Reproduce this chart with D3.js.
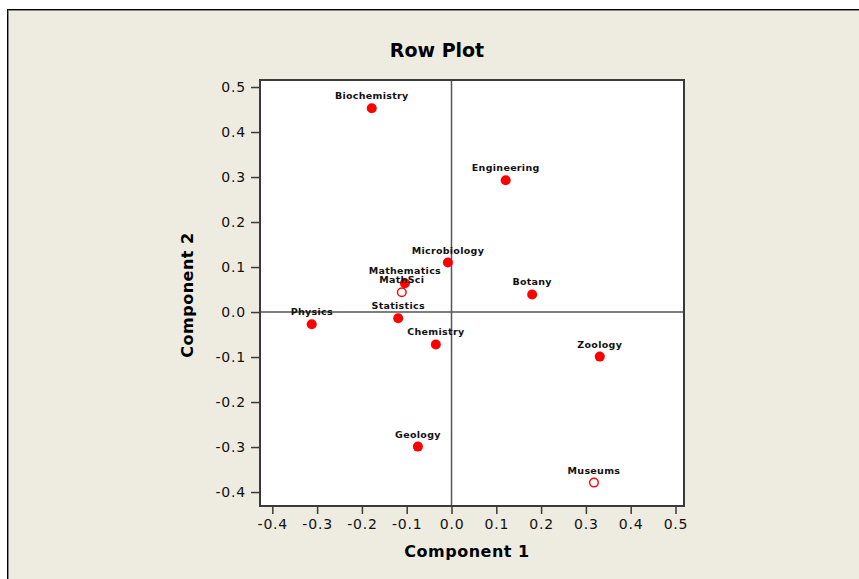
<!DOCTYPE html>
<html>
<head>
<meta charset="utf-8">
<script src="https://cdn.jsdelivr.net/npm/d3@7"></script>
<style>
  body { margin: 0; background: #fff; }
  svg { display: block; }
  .tick text { font-family: "DejaVu Sans", sans-serif; font-size: 14px; fill: #111; }
</style>
</head>
<body>
<div id="chart"></div>
<script>
// Row plot data (component 1, component 2)
const rowNames = ['Biochemistry', 'Engineering', 'Microbiology', 'Mathematics', 'Botany',
                  'Physics', 'Statistics', 'Chemistry', 'Zoology', 'Geology'];
const comp1 = [-0.178, 0.121, -0.008, -0.104, 0.180, -0.312, -0.119, -0.035, 0.331, -0.075];
const comp2 = [0.453, 0.293, 0.110, 0.064, 0.039, -0.027, -0.014, -0.072, -0.099, -0.299];

// supplementary rows (open circles)
const suppNames = ['MathSci', 'Museums'];
const suppComp1 = [-0.111, 0.318];
const suppComp2 = [0.044, -0.379];

const xTicks = [-0.4, -0.3, -0.2, -0.1, 0.0, 0.1, 0.2, 0.3, 0.4, 0.5];
const yTicks = [-0.4, -0.3, -0.2, -0.1, 0.0, 0.1, 0.2, 0.3, 0.4, 0.5];

const W = 859, H = 579;
const plot = { left: 260, top: 80, right: 684, bottom: 506 };

const svg = d3.select('#chart').append('svg')
    .attr('width', W)
    .attr('height', H);

// window background + frame
svg.append('rect').attr('x', 8).attr('y', 10).attr('width', W - 8).attr('height', H - 10)
    .attr('fill', '#eeebe1');
svg.append('line').attr('x1', 7).attr('x2', W).attr('y1', 9.5).attr('y2', 9.5).attr('stroke', '#000');
svg.append('line').attr('x1', 7.5).attr('x2', 7.5).attr('y1', 9).attr('y2', H).attr('stroke', '#000');
svg.append('line').attr('x1', 8).attr('x2', W).attr('y1', 10.5).attr('y2', 10.5).attr('stroke', '#888');
svg.append('line').attr('x1', 8.5).attr('x2', 8.5).attr('y1', 10).attr('y2', H).attr('stroke', '#888');

const x = d3.scaleLinear().domain([-0.4275, 0.519]).range([plot.left, plot.right]);
const y = d3.scaleLinear().domain([-0.431, 0.5156]).range([plot.bottom, plot.top]);
const fmt = d => d.toFixed(1);

// plot area
svg.append('rect')
    .attr('x', plot.left).attr('y', plot.top)
    .attr('width', plot.right - plot.left).attr('height', plot.bottom - plot.top)
    .attr('fill', '#fff');

// reference lines at zero
svg.append('line')
    .attr('x1', x(0)).attr('x2', x(0)).attr('y1', plot.top).attr('y2', plot.bottom)
    .attr('stroke', '#555').attr('stroke-width', 1.5);
svg.append('line')
    .attr('x1', plot.left).attr('x2', plot.right).attr('y1', y(0)).attr('y2', y(0))
    .attr('stroke', '#555').attr('stroke-width', 1.5);

svg.append('rect')
    .attr('x', plot.left).attr('y', plot.top)
    .attr('width', plot.right - plot.left).attr('height', plot.bottom - plot.top)
    .attr('fill', 'none').attr('stroke', '#3a3a3a').attr('stroke-width', 2);

// axes
const xAxis = svg.append('g')
    .attr('transform', `translate(0,${plot.bottom + 1})`)
    .call(d3.axisBottom(x).tickValues(xTicks).tickFormat(fmt).tickSize(7).tickSizeOuter(0));
xAxis.select('.domain').remove();
xAxis.selectAll('.tick line').attr('stroke', '#3a3a3a').attr('stroke-width', 1.5);
xAxis.selectAll('.tick text').attr('y', 12).attr('letter-spacing', '0.8px');

const yAxis = svg.append('g')
    .attr('transform', `translate(${plot.left - 1},0)`)
    .call(d3.axisLeft(y).tickValues(yTicks).tickFormat(fmt).tickSize(8).tickSizeOuter(0));
yAxis.select('.domain').remove();
yAxis.selectAll('.tick line').attr('stroke', '#3a3a3a').attr('stroke-width', 1.5);
yAxis.selectAll('.tick text').attr('x', -13).attr('letter-spacing', '0.8px');

// titles
svg.append('text')
    .attr('x', 437).attr('y', 57)
    .attr('text-anchor', 'middle')
    .style('font-family', '"DejaVu Sans", sans-serif')
    .style('font-size', '19px').style('font-weight', 'bold')
    .text('Row Plot');

svg.append('text')
    .attr('x', 467).attr('y', 557)
    .attr('text-anchor', 'middle')
    .style('font-family', '"DejaVu Sans", sans-serif')
    .style('font-size', '16px').style('font-weight', 'bold')
    .attr('letter-spacing', '0.5px')
    .text('Component 1');

svg.append('text')
    .attr('transform', 'translate(193,295) rotate(-90)')
    .attr('text-anchor', 'middle')
    .style('font-family', '"DejaVu Sans", sans-serif')
    .style('font-size', '16px').style('font-weight', 'bold')
    .attr('letter-spacing', '0.5px')
    .text('Component 2');

// points
const rows = rowNames.map((n, i) => ({ name: n, c1: comp1[i], c2: comp2[i], supp: false }));
const supp = suppNames.map((n, i) => ({ name: n, c1: suppComp1[i], c2: suppComp2[i], supp: true }));
const all = rows.concat(supp);

const pts = svg.append('g');
pts.selectAll('circle')
    .data(all)
    .join('circle')
    .attr('cx', d => x(d.c1))
    .attr('cy', d => y(d.c2))
    .attr('r', d => d.supp ? 4.3 : 5)
    .attr('fill', d => d.supp ? '#fff' : '#ff0000')
    .attr('stroke', d => d.supp ? '#ff0000' : 'none')
    .attr('stroke-width', 1.4);

pts.selectAll('text')
    .data(all)
    .join('text')
    .attr('x', d => x(d.c1))
    .attr('y', d => y(d.c2) - 9)
    .attr('text-anchor', 'middle')
    .style('font-family', '"DejaVu Sans", sans-serif')
    .style('font-size', '9.5px')
    .style('font-weight', 'bold')
    .attr('letter-spacing', '0.3px')
    .attr('fill', '#111')
    .text(d => d.name);
</script>
</body>
</html>
